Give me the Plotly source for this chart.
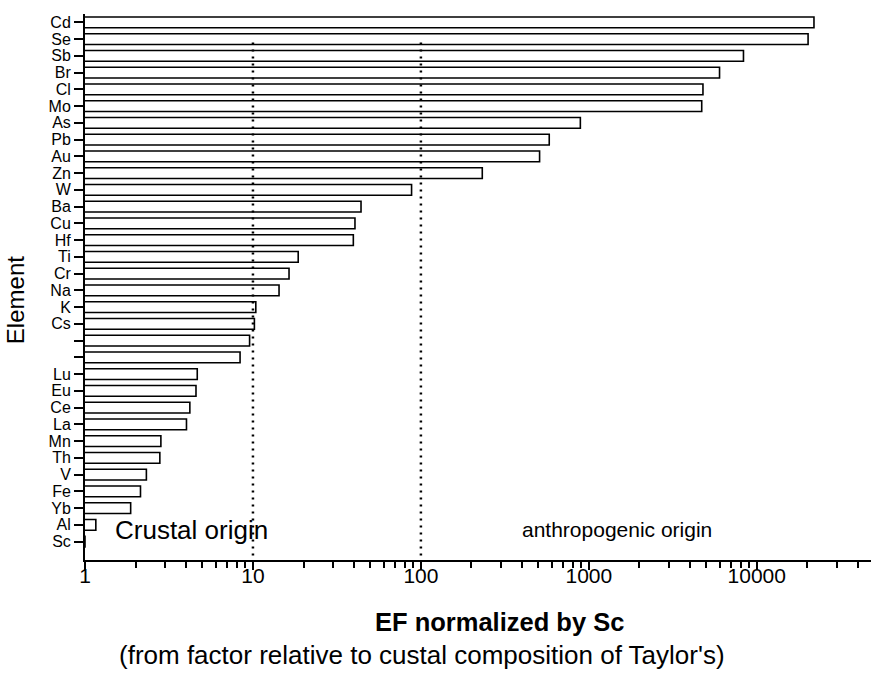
import numpy as np
import plotly.graph_objects as go

# Enrichment factors (normalized by Sc), listed top to bottom
elements = ["Cd", "Se", "Sb", "Br", "Cl", "Mo", "As", "Pb", "Au", "Zn", "W",
            "Ba", "Cu", "Hf", "Ti", "Cr", "Na", "K", "Cs", "", "",
            "Lu", "Eu", "Ce", "La", "Mn", "Th", "V", "Fe", "Yb", "Al", "Sc"]
ef_values = [21900, 20200, 8330, 6000, 4780, 4700, 890, 581, 509, 232, 88,
             44, 40.5, 39.6, 18.6, 16.4, 14.3, 10.4, 10.2, 9.55, 8.38,
             4.66, 4.58, 4.21, 4.02, 2.83, 2.79, 2.32, 2.14, 1.87, 1.16, 1.0]
boundaries = [10, 100]          # crustal / anthropogenic thresholds
x_tick_vals = [1, 10, 100, 1000, 10000]
x_tick_text = ["1", "10", "100", "1000", "10000"]

positions = list(range(len(elements)))
FONT = "Liberation Sans, Arial, Helvetica, sans-serif"

fig = go.Figure()

fig.add_trace(go.Bar(
    x=ef_values, y=positions, orientation="h", width=0.64,
    marker=dict(color="white", line=dict(color="black", width=1.6)),
    showlegend=False, hoverinfo="x+text", text=elements, textposition="none",
))

for b in boundaries:
    fig.add_trace(go.Scatter(
        x=[b, b], y=[1.2, 32.1], mode="lines",
        line=dict(color="black", width=2.5, dash="2px,5px"),
        showlegend=False, hoverinfo="skip",
    ))

minor_vals = [m * 10 ** d for d in range(0, 5) for m in range(2, 10)]

fig.update_layout(
    width=871, height=696,
    margin=dict(l=85, r=0, t=14, b=136),
    paper_bgcolor="white", plot_bgcolor="white",
    font=dict(family=FONT, color="black"),
    xaxis=dict(
        type="log", range=[0, 4.68],
        tickmode="array", tickvals=x_tick_vals, ticktext=x_tick_text,
        ticks="outside", ticklen=8, tickwidth=1.5, tickcolor="black",
        ticklabelstandoff=-12,
        tickfont=dict(size=21, family=FONT, color="black"),
        showline=True, linecolor="black", linewidth=2,
        showgrid=False, zeroline=False,
        minor=dict(tickmode="array", tickvals=minor_vals, ticks="outside",
                   ticklen=6, tickwidth=1.5, tickcolor="black", showgrid=False),
    ),
    yaxis=dict(
        range=[32.1, -0.5],
        tickmode="array", tickvals=positions, ticktext=elements,
        ticks="outside", ticklen=9, tickwidth=1.5, tickcolor="black",
        tickfont=dict(size=16, family=FONT, color="black"),
        showline=True, linecolor="black", linewidth=2,
        showgrid=False, zeroline=False,
    ),
)

annotations = [
    dict(text="Crustal origin", x=np.log10(1.47), y=30.3, xref="x", yref="y",
         xanchor="left", yanchor="middle", showarrow=False,
         font=dict(size=26, family=FONT, color="black")),
    dict(text="anthropogenic origin", x=np.log10(390), y=30.25, xref="x", yref="y",
         xanchor="left", yanchor="middle", showarrow=False,
         font=dict(size=21, family=FONT, color="black")),
    dict(text="Element", x=-0.089, y=0.476, xref="paper", yref="paper",
         textangle=-90, xanchor="center", yanchor="middle", showarrow=False,
         font=dict(size=24, family=FONT, color="black")),
    dict(text="<b>EF normalized by Sc</b>", x=0.367, y=-0.114, xref="paper", yref="paper",
         xanchor="left", yanchor="middle", showarrow=False,
         font=dict(size=25.5, family=FONT, color="black")),
    dict(text="(from factor relative to custal composition of Taylor's)",
         x=0.0407, y=-0.174, xref="paper", yref="paper",
         xanchor="left", yanchor="middle", showarrow=False,
         font=dict(size=26, family=FONT, color="black")),
]
fig.update_layout(annotations=annotations)

fig.write_html("out.html")
